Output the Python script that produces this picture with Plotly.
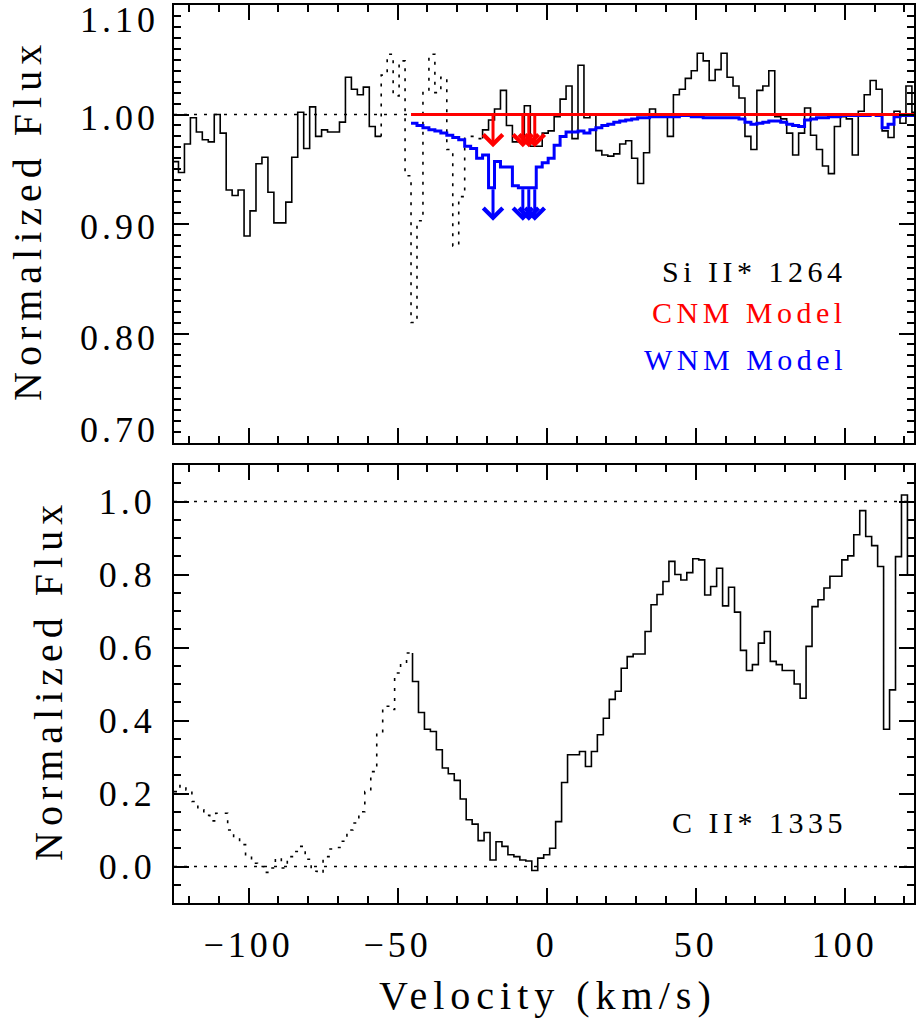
import numpy as np
import plotly.graph_objects as go

# ---------------- DATA ----------------
# Top panel: Si II* 1264 spectrum, binned (bin centres start at SI_V0, width SI_DV km/s)
SI_V0 = -124.5
SI_DV = 2.0
si_flux = [
    0.957, 0.947, 0.973, 0.997, 0.984, 0.977, 0.975, 1.000, 0.983, 0.931,
    0.926, 0.931, 0.889, 0.912, 0.955, 0.961, 0.929, 0.901, 0.901, 0.920,
    0.961, 1.002, 0.969, 1.007, 0.980, 0.986, 0.984, 0.984, 0.993, 1.034,
    1.023, 1.018, 1.025, 0.989, 0.980,
    1.036, 1.055, 1.017, 1.049, 0.944, 0.810, 0.903, 1.020, 1.055, 1.020,
    1.034, 0.968, 0.880, 0.925, 0.980, 0.980, 0.978,
    0.986, 0.995, 1.005, 1.022, 0.990, 0.975, 0.975, 1.008, 0.971, 0.971, 0.983,
    0.985, 0.998, 1.014, 1.026, 0.978, 1.045, 0.997, 1.000, 0.967, 0.963,
    0.962, 0.964, 0.973, 0.976, 0.960, 0.937, 0.965, 1.005, 1.000, 1.000,
    0.980, 1.018, 1.023, 1.033, 1.040, 1.056, 1.049, 1.031, 1.041, 1.056,
    1.034, 1.026, 1.015, 0.980, 0.968, 1.022, 1.026, 1.040, 0.998, 0.996,
    0.983, 0.963, 0.983, 1.006, 0.981, 0.968, 0.953, 0.946, 0.989, 0.998,
    0.996, 0.963, 1.003, 1.018, 1.031, 1.023, 0.985, 0.979, 1.003, 0.992,
    1.026, 1.002,
]
SI_DOTTED = (-55.5, -21.5)   # velocity interval drawn dotted

# WNM model (blue), same bin width
WNM_V0 = -44.5
wnm_flux = [
    0.992, 0.990, 0.988, 0.986, 0.985, 0.983, 0.981, 0.979, 0.977, 0.971,
    0.969, 0.960, 0.963, 0.933, 0.957, 0.952, 0.952, 0.935, 0.933, 0.933,
    0.933, 0.952, 0.956, 0.960, 0.972, 0.980, 0.984, 0.984, 0.985, 0.983,
    0.986, 0.988, 0.990, 0.991, 0.993, 0.994, 0.995, 0.996, 0.997, 0.997,
    0.998, 0.998, 0.998, 0.998, 0.998, 0.999, 0.999, 0.998, 0.998, 0.997,
    0.997, 0.997, 0.997, 0.997, 0.997, 0.996, 0.993, 0.991, 0.992, 0.993,
    0.994, 0.994, 0.993, 0.991, 0.990, 0.989, 0.995, 0.996, 0.997, 0.997,
    0.998, 0.998, 0.999, 0.999, 0.999, 0.999, 0.999, 1.000, 0.999, 0.988,
    0.991, 0.998, 0.999, 0.999, 0.999,
]

# CNM model (red)
cnm_v = [-45.5, 125.0]
cnm_flux = [1.000, 1.000]

# Component upper-limit arrows
arrow_v = [-18.0, -8.0, -6.0, -4.0]
cnm_arrow_top = [1.000, 1.000, 1.000, 1.000]
cnm_arrow_tip = [0.970, 0.970, 0.970, 0.970]
wnm_arrow_top = [0.933, 0.933, 0.933, 0.933]
wnm_arrow_tip = [0.903, 0.903, 0.903, 0.903]

# Bottom panel: C II* 1335 spectrum
CII_V0 = -124.0
CII_DV = 2.0
cii_flux = [
    0.205, 0.222, 0.210, 0.178, 0.155, 0.140, 0.125, 0.146, 0.146, 0.100,
    0.082, 0.060, 0.030, 0.009, 0.000, -0.016, -0.004, 0.023, -0.004, 0.027,
    0.041, 0.055, 0.020, -0.013, -0.018, 0.027, 0.048, 0.052, 0.069, 0.100,
    0.119, 0.150, 0.205, 0.260, 0.365, 0.439, 0.430, 0.530, 0.560, 0.585,
    0.507, 0.422, 0.376, 0.370, 0.320, 0.270, 0.254, 0.236, 0.185, 0.128,
    0.116, 0.071, 0.093, 0.018, 0.068, 0.055, 0.032, 0.027, 0.018, 0.015,
    -0.011, 0.023, 0.032, 0.050, 0.123, 0.230, 0.306, 0.306, 0.315, 0.274,
    0.315, 0.361, 0.406, 0.458, 0.480, 0.543, 0.575, 0.582, 0.582, 0.644,
    0.717, 0.745, 0.781, 0.836, 0.800,
    0.785, 0.805, 0.843, 0.840, 0.744, 0.767, 0.817, 0.714, 0.765, 0.697,
    0.592, 0.537, 0.553, 0.612, 0.644, 0.562, 0.553, 0.537, 0.537, 0.500,
    0.461, 0.603, 0.712, 0.731, 0.763, 0.795, 0.795, 0.840, 0.851, 0.909,
    0.975, 0.904, 0.879, 0.822, 0.376, 0.484, 0.849, 1.018, 0.799, 0.799,
]
CII_DOTTED = (-125.0, -45.0)

# Reference (continuum / zero) levels
top_ref_levels = [1.00]
bot_ref_levels = [0.0, 1.0]

# Ticks
x_tick_vals = [-100, -50, 0, 50, 100]
x_tick_text = ["\u2212100", "\u221250", "0", "50", "100"]
top_y_tick_vals = [1.10, 1.00, 0.90, 0.80, 0.70]
top_y_tick_text = ["1.10", "1.00", "0.90", "0.80", "0.70"]
bot_y_tick_vals = [0.0, 0.2, 0.4, 0.6, 0.8, 1.0]
bot_y_tick_text = ["0.0", "0.2", "0.4", "0.6", "0.8", "1.0"]

labels_top = ["Si II* 1264", "CNM Model", "WNM Model"]
labels_top_y = [0.857, 0.819, 0.776]
label_bot = "C II* 1335"
label_bot_y = 0.12
LABEL_X = 100.0

# ---------------- STYLE ----------------
FONT = "Liberation Serif"
DOT = "3px,7px"
RED = "#ff0000"
BLUE = "#0000ff"
top_label_nudge = [-15, -3, -3, -4, 13]   # px, IDL keeps edge labels inside the box


def sp(text, px):
    return '<span style="letter-spacing:%spx">%s</span>' % (px, text)


def step_segment(v0, dv, flux, lo, hi):
    """Histogram outline for bins whose centres fall in [lo, hi]."""
    c = v0 + dv * np.arange(len(flux))
    idx = [i for i in range(len(flux)) if lo <= c[i] <= hi]
    xs, ys = [], []
    if idx and idx[0] > 0:
        xs.append(c[idx[0]] - dv / 2)
        ys.append(flux[idx[0] - 1])
    for i in idx:
        xs += [c[i] - dv / 2, c[i] + dv / 2]
        ys += [flux[i], flux[i]]
    return xs, ys


fig = go.Figure()

# ----- top panel -----
si_c_end = SI_V0 + SI_DV * (len(si_flux) - 1)
segs = [
    (SI_V0 - 1, SI_DOTTED[0], "solid"),
    (SI_DOTTED[0], SI_DOTTED[1], DOT),
    (SI_DOTTED[1], si_c_end + 1, "solid"),
]
for lo, hi, dash in segs:
    xs, ys = step_segment(SI_V0, SI_DV, si_flux, lo, hi)
    fig.add_trace(go.Scatter(x=xs, y=ys, mode="lines", xaxis="x2", yaxis="y2",
                             line=dict(color="black", width=1.6, dash=dash),
                             showlegend=False, hoverinfo="skip"))

xs, ys = step_segment(WNM_V0, SI_DV, wnm_flux, -200, 200)
fig.add_trace(go.Scatter(x=xs, y=ys, mode="lines", xaxis="x2", yaxis="y2",
                         line=dict(color=BLUE, width=3), showlegend=False, hoverinfo="skip"))
fig.add_trace(go.Scatter(x=cnm_v, y=cnm_flux, mode="lines", xaxis="x2", yaxis="y2",
                         line=dict(color=RED, width=3), showlegend=False, hoverinfo="skip"))

# ----- bottom panel -----
cii_c_end = CII_V0 + CII_DV * (len(cii_flux) - 1)
segs = [
    (CII_DOTTED[0], CII_DOTTED[1], DOT),
    (CII_DOTTED[1], cii_c_end + 1, "solid"),
]
for lo, hi, dash in segs:
    xs, ys = step_segment(CII_V0, CII_DV, cii_flux, lo, hi)
    fig.add_trace(go.Scatter(x=xs, y=ys, mode="lines", xaxis="x", yaxis="y",
                             line=dict(color="black", width=1.6, dash=dash),
                             showlegend=False, hoverinfo="skip"))

# reference lines
for lv in top_ref_levels:
    fig.add_shape(type="line", xref="x2 domain", yref="y2", x0=0, x1=1, y0=lv, y1=lv,
                  line=dict(color="black", width=1.3, dash=DOT), layer="below")
for lv in bot_ref_levels:
    fig.add_shape(type="line", xref="x domain", yref="y", x0=0, x1=1, y0=lv, y1=lv,
                  line=dict(color="black", width=1.3, dash=DOT), layer="below")

# arrows
for v, t0, t1 in zip(arrow_v, cnm_arrow_top, cnm_arrow_tip):
    fig.add_annotation(x=v, y=t1, ax=v, ay=t0, xref="x2", yref="y2", axref="x2", ayref="y2",
                       text="", showarrow=True, arrowhead=4, arrowsize=1.25, arrowwidth=3,
                       arrowcolor=RED, standoff=0)
for v, t0, t1 in zip(arrow_v, wnm_arrow_top, wnm_arrow_tip):
    fig.add_annotation(x=v, y=t1, ax=v, ay=t0, xref="x2", yref="y2", axref="x2", ayref="y2",
                       text="", showarrow=True, arrowhead=4, arrowsize=1.25, arrowwidth=3,
                       arrowcolor=BLUE, standoff=0)

# panel labels
for txt, yv, col in zip(labels_top, labels_top_y, ["black", RED, BLUE]):
    fig.add_annotation(x=LABEL_X, y=yv, xref="x2", yref="y2", text=sp(txt, 4.5),
                       showarrow=False, xanchor="right", yanchor="middle", xshift=4,
                       font=dict(family=FONT, size=30, color=col))
fig.add_annotation(x=LABEL_X, y=label_bot_y, xref="x", yref="y", text=sp(label_bot, 4.5),
                   showarrow=False, xanchor="right", yanchor="middle", xshift=4,
                   font=dict(family=FONT, size=30, color="black"))

# top y tick labels (annotations, so edge labels can sit inside the box like IDL)
for val, txt, dy in zip(top_y_tick_vals, top_y_tick_text, top_label_nudge):
    fig.add_annotation(x=0, y=val, xref="paper", yref="y2", text=sp(txt, 4),
                       showarrow=False, xanchor="right", yanchor="middle",
                       xshift=-13, yshift=dy, font=dict(family=FONT, size=36, color="black"))

# axis titles
fig.add_annotation(x=0, y=0.5, xref="paper", yref="y2 domain", text=sp("Normalized Flux", 6),
                   showarrow=False, textangle=-90, xanchor="center", yanchor="middle",
                   xshift=-146, yshift=4, font=dict(family=FONT, size=40, color="black"))
fig.add_annotation(x=0, y=0.5, xref="paper", yref="y domain", text=sp("Normalized Flux", 6),
                   showarrow=False, textangle=-90, xanchor="center", yanchor="middle",
                   xshift=-126, yshift=4, font=dict(family=FONT, size=40, color="black"))
fig.add_annotation(x=0, y=0, xref="x", yref="paper", text=sp("Velocity (km/s)", 6),
                   showarrow=False, xanchor="center", yanchor="middle",
                   xshift=1, yshift=-92, font=dict(family=FONT, size=40, color="black"))

axis_common = dict(showline=True, linecolor="black", linewidth=2, mirror="ticks",
                   ticks="inside", ticklen=15, tickwidth=1.5, tickcolor="black",
                   showgrid=False, zeroline=False)

XR = [-125, 123.2]
fig.update_layout(
    width=916, height=1019,
    margin=dict(l=174, r=0, t=5, b=116),
    paper_bgcolor="white", plot_bgcolor="white",
    font=dict(family=FONT, size=35, color="black"),
    xaxis=dict(domain=[0, 1], anchor="y", range=XR, tickvals=x_tick_vals,
               ticktext=[sp(t, 4) for t in x_tick_text], ticklabelstandoff=9,
               minor=dict(ticks="inside", ticklen=7, tickwidth=1.5, tickcolor="black",
                          dtick=10, tick0=0, showgrid=False),
               tickfont=dict(family=FONT, size=36), **axis_common),
    yaxis=dict(domain=[0, 0.48775], anchor="x", range=[-0.1, 1.1], tickvals=bot_y_tick_vals,
               ticktext=[sp(t, 4) for t in bot_y_tick_text], ticklabelstandoff=9,
               minor=dict(ticks="inside", ticklen=7, tickwidth=1.5, tickcolor="black",
                          dtick=0.05, tick0=0, showgrid=False),
               tickfont=dict(family=FONT, size=36), **axis_common),
    xaxis2=dict(domain=[0, 1], anchor="y2", range=XR, tickvals=x_tick_vals,
                showticklabels=False,
                minor=dict(ticks="inside", ticklen=7, tickwidth=1.5, tickcolor="black",
                           dtick=10, tick0=0, showgrid=False),
                **axis_common),
    yaxis2=dict(domain=[0.51225, 1], anchor="x2", range=[0.70, 1.10],
                tickvals=top_y_tick_vals, showticklabels=False,
                minor=dict(ticks="inside", ticklen=7, tickwidth=1.5, tickcolor="black",
                           dtick=0.01, tick0=0, showgrid=False),
                **axis_common),
)

fig.write_html("out.html", config={"displayModeBar": False},
               post_script="document.body.style.margin='0';document.body.style.padding='0';")
